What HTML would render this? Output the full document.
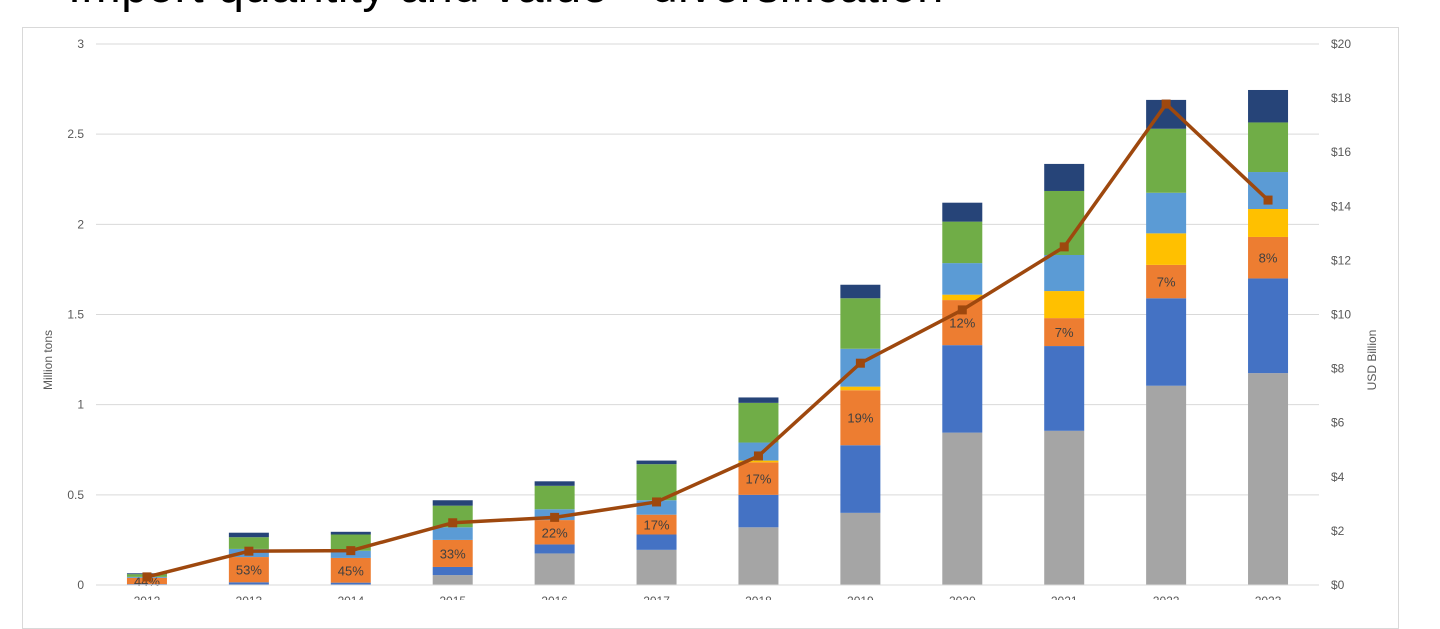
<!DOCTYPE html>
<html><head><meta charset="utf-8"><style>
body{margin:0;width:1440px;height:600px;overflow:hidden;background:#fff;font-family:"Liberation Sans",sans-serif;position:relative}
#title{position:absolute;left:68px;top:-42px;font-size:47px;color:#000;white-space:nowrap;letter-spacing:0.5px}
#frame{position:absolute;left:22px;top:27px;width:1375px;height:600px;border:1px solid #d9d9d9}
svg{position:absolute;left:0;top:0}
</style></head><body>
<div id="title">Import quantity and value - diversification</div>
<div id="frame"></div>
<svg id="chart" width="1440" height="600"></svg>
<script>
const years=["2012","2013","2014","2015","2016","2017","2018","2019","2020","2021","2022","2023"];
const sGrey=[0,0,0,0.055,0.175,0.195,0.32,0.40,0.845,0.855,1.105,1.175];
const sBlue=[0.005,0.015,0.013,0.045,0.05,0.085,0.18,0.375,0.485,0.47,0.485,0.525];
const sOrange=[0.035,0.14,0.137,0.15,0.135,0.11,0.18,0.305,0.25,0.155,0.185,0.23];
const sYellow=[0,0,0,0,0,0,0.01,0.02,0.03,0.15,0.175,0.155];
const sLBlue=[0.005,0.045,0.04,0.07,0.06,0.08,0.1,0.21,0.175,0.2,0.225,0.205];
const sGreen=[0.015,0.065,0.09,0.12,0.13,0.2,0.22,0.28,0.23,0.355,0.355,0.275];
const sNavy=[0.005,0.025,0.015,0.03,0.025,0.02,0.03,0.075,0.105,0.15,0.16,0.18];
const pctLabels=["44%","53%","45%","33%","22%","17%","17%","19%","12%","7%","7%","8%"];
const usdValues=[0.3,1.25,1.27,2.3,2.5,3.07,4.77,8.2,10.17,12.5,17.78,14.23];
const leftTicks=["0","0.5","1","1.5","2","2.5","3"];
const rightTicks=["$0","$2","$4","$6","$8","$10","$12","$14","$16","$18","$20"];

const svg=document.getElementById('chart');const NS="http://www.w3.org/2000/svg";
const X0=96,X1=1319,Y0=585,Y1=44;
const band=(X1-X0)/years.length;
const xC=i=>X0+band*(i+0.5);
const yL=v=>Y0-(v/3)*(Y0-Y1);
const yR=v=>Y0-(v/20)*(Y0-Y1);
function mk(t,a){const e=document.createElementNS(NS,t);for(const k in a)e.setAttribute(k,a[k]);svg.appendChild(e);return e;}
leftTicks.forEach((t,i)=>{const v=+t;const y=yL(v);
 const g=mk('line',{x1:X0,x2:X1,y1:y,y2:y,stroke:'#d9d9d9','stroke-width':1});
 
 
 const l=mk('text',{x:84,y:y+4,'text-anchor':'end','font-size':12,fill:'#595959'});l.textContent=t;
 
 });
rightTicks.forEach((t,i)=>{const v=+t.slice(1);const y=yR(v);
 const l=mk('text',{x:1331,y:y+4,'font-size':12,fill:'#595959'});l.textContent=t;
 
 });
const series=[[sGrey,'#a5a5a5','grey'],[sBlue,'#4472c4','blue'],[sOrange,'#ed7d31','orange'],[sYellow,'#ffc000','yellow'],[sLBlue,'#5b9bd5','light-blue'],[sGreen,'#70ad47','green'],[sNavy,'#264478','navy']];
const bw=40;
years.forEach((yr,i)=>{let cum=0;
 series.forEach(([arr,col,nm])=>{const v=arr[i];const yt=yL(cum+v),yb=yL(cum);
  const r=mk('rect',{x:xC(i)-bw/2,y:yt,width:bw,height:Math.max(0,yb-yt),fill:col});
  
  
  if(nm==='orange'){const t=mk('text',{x:xC(i),y:(yt+yb)/2+5,'text-anchor':'middle','font-size':13,fill:'#404040'});t.textContent=pctLabels[i];
   
   }
  cum+=v;});
 const xl=mk('text',{x:xC(i),y:605,'text-anchor':'middle','font-size':12,fill:'#595959'});xl.textContent=yr;
 
 
});
const base=mk('line',{x1:X0,x2:X1,y1:Y0,y2:Y0,stroke:'#d9d9d9','stroke-width':1});


const pts=usdValues.map((v,i)=>xC(i)+','+yR(v)).join(' ');
const pl=mk('polyline',{points:pts,fill:'none',stroke:'#9e480e','stroke-width':3.5,'stroke-linejoin':'round'});


usdValues.forEach((v,i)=>{const m=mk('rect',{x:xC(i)-4.5,y:yR(v)-4.5,width:9,height:9,fill:'#9e480e'});
 
 });
const lt=mk('text',{x:0,y:0,'font-size':12,fill:'#595959','text-anchor':'middle',transform:'translate(52,360) rotate(-90)'});lt.textContent='Million tons';


const rt=mk('text',{x:0,y:0,'font-size':12,fill:'#595959','text-anchor':'middle',transform:'translate(1376,360) rotate(-90)'});rt.textContent='USD Billion';


</script>
</body></html>
